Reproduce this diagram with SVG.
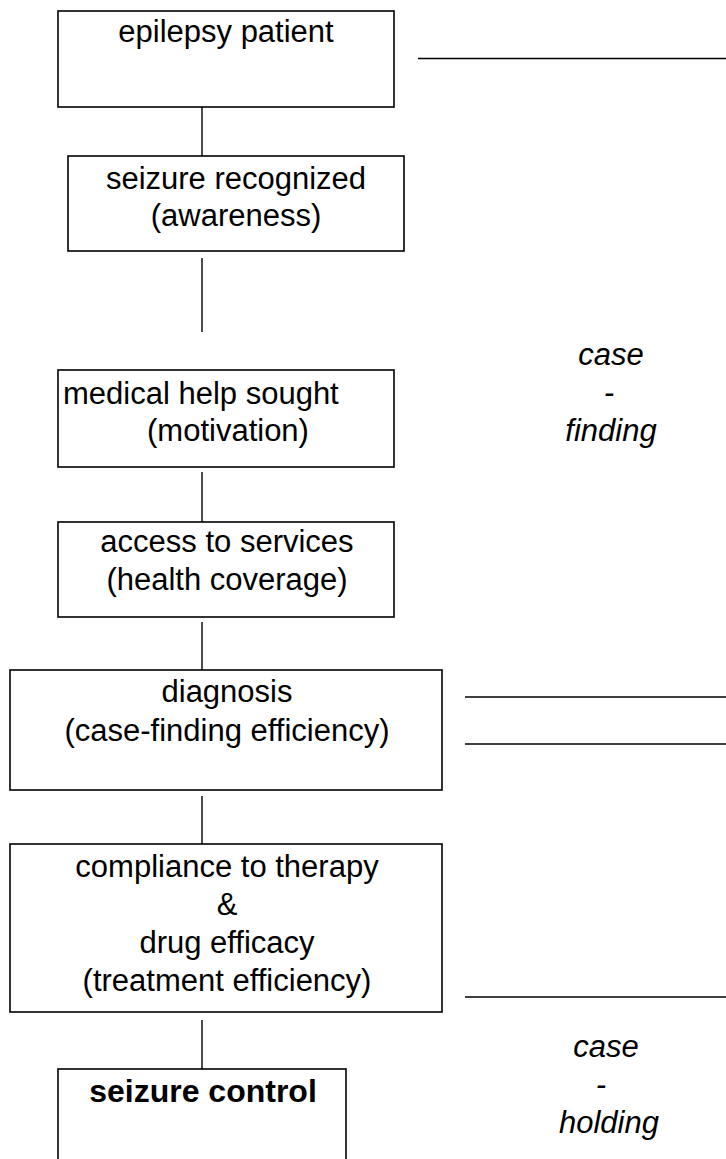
<svg xmlns="http://www.w3.org/2000/svg" width="726" height="1159" viewBox="0 0 726 1159">
<style>
.box{fill:#fff;stroke:#000;stroke-width:1.6}
.ln{stroke:#000;stroke-width:1.4;fill:none}
text{font-family:"Liberation Sans",Arial,sans-serif;font-size:31px;fill:#000}
.c{text-anchor:middle}
.it{font-style:italic}
.b{font-weight:bold;font-size:32px}
</style>
<rect width="726" height="1159" fill="#fff"/>
<g id="connectors">
<line class="ln" x1="202" y1="107" x2="202" y2="156"/>
<line class="ln" x1="202" y1="258" x2="202" y2="332"/>
<line class="ln" x1="202" y1="472" x2="202" y2="522"/>
<line class="ln" x1="202" y1="622" x2="202" y2="670"/>
<line class="ln" x1="202" y1="796" x2="202" y2="844"/>
<line class="ln" x1="202" y1="1020" x2="202" y2="1069"/>
<line class="ln" x1="418" y1="58.5" x2="726" y2="58.5"/>
<line class="ln" x1="465" y1="697" x2="726" y2="697"/>
<line class="ln" x1="465" y1="744" x2="726" y2="744"/>
<line class="ln" x1="465" y1="997" x2="726" y2="997"/>
</g>
<g id="n1">
<rect class="box" x="58" y="11" width="336" height="96"/>
<text class="c" x="226" y="42">epilepsy patient</text>
</g>
<g id="n2">
<rect class="box" x="68" y="156" width="336" height="95"/>
<text class="c" x="236" y="189">seizure recognized</text>
<text class="c" x="236" y="226">(awareness)</text>
</g>
<g id="n3">
<rect class="box" x="58" y="370" width="336" height="97"/>
<text x="63" y="404">medical help sought</text>
<text x="147" y="441">(motivation)</text>
</g>
<g id="n4">
<rect class="box" x="58" y="522" width="336" height="95"/>
<text class="c" x="227" y="552">access to services</text>
<text class="c" x="227" y="590">(health coverage)</text>
</g>
<g id="n5">
<rect class="box" x="10" y="670" width="432" height="120"/>
<text class="c" x="227" y="702">diagnosis</text>
<text class="c" x="227" y="741">(case-finding efficiency)</text>
</g>
<g id="n6">
<rect class="box" x="10" y="844" width="432" height="168"/>
<text class="c" x="227" y="877">compliance to therapy</text>
<text class="c" x="227" y="915">&amp;</text>
<text class="c" x="227" y="953">drug efficacy</text>
<text class="c" x="227" y="991">(treatment efficiency)</text>
</g>
<g id="n7">
<rect class="box" x="58" y="1069" width="288" height="120"/>
<text class="c b" x="203" y="1102">seizure control</text>
</g>
<g id="label-case-finding">
<text class="c it" x="611" y="365">case</text>
<text class="c it" x="609" y="403">-</text>
<text class="c it" x="611" y="441">finding</text>
</g>
<g id="label-case-holding">
<text class="c it" x="606" y="1057">case</text>
<text class="c it" x="601" y="1095">-</text>
<text class="c it" x="609" y="1133">holding</text>
</g>
</svg>
